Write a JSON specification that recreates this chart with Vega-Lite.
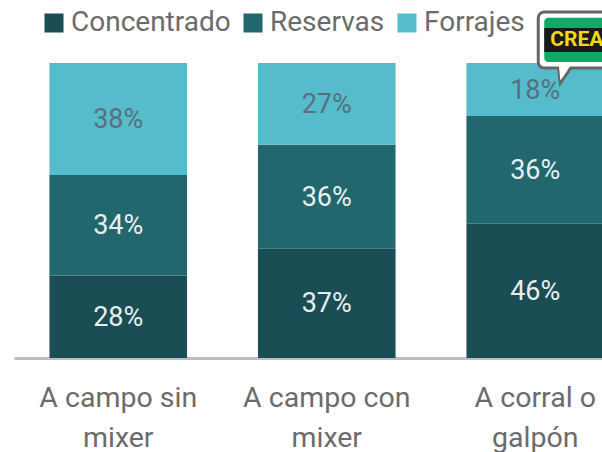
{"$schema":"https://vega.github.io/schema/vega-lite/v6.json","autosize":"none","width":588,"height":295,"padding":{"left":14,"top":63,"right":0,"bottom":94},"background":"white","view":{"stroke":null},"config":{"font":"Roboto"},"datasets":{"d":[{"s":"A campo sin mixer","t":"Concentrado","o":1,"v":28,"p":"28%"},{"s":"A campo sin mixer","t":"Reservas","o":2,"v":34,"p":"34%"},{"s":"A campo sin mixer","t":"Forrajes","o":3,"v":38,"p":"38%"},{"s":"A campo con mixer","t":"Concentrado","o":1,"v":37,"p":"37%"},{"s":"A campo con mixer","t":"Reservas","o":2,"v":35.3,"p":"36%"},{"s":"A campo con mixer","t":"Forrajes","o":3,"v":27.7,"p":"27%"},{"s":"A corral o galpón","t":"Concentrado","o":1,"v":45.5,"p":"46%"},{"s":"A corral o galpón","t":"Reservas","o":2,"v":36.5,"p":"36%"},{"s":"A corral o galpón","t":"Forrajes","o":3,"v":18,"p":"18%"}],"badge":[{"s":"A corral o galpón","top":117.3,"bottom":98.3,"t1":115.3,"b1":100.3,"t2":111.9,"b2":103.7,"mid":107.8,"tip":97.6,"name":"CREA"}]},"data":{"name":"d"},"transform":[{"stack":"v","groupby":["s"],"sort":[{"field":"o","order":"ascending"}],"as":["y0","y1"]},{"calculate":"(datum.y0+datum.y1)/2","as":"m"}],"encoding":{"x":{"field":"s","type":"nominal","sort":null,"scale":{"range":[0,625.5],"paddingInner":0.34,"paddingOuter":0.17},"axis":{"title":null,"labelAngle":0,"labelExpr":"datum.value == 'A campo sin mixer' ? ['A campo sin','mixer'] : datum.value == 'A campo con mixer' ? ['A campo con','mixer'] : ['A corral o','galpón']","labelFontSize":28.5,"labelColor":"#6b6b6b","labelLineHeight":40,"labelPadding":25,"labelBaseline":"top","ticks":false,"domainColor":"#bdbdbd","domainWidth":3,"labelLimit":300}}},"layer":[{"mark":{"type":"bar","strokeWidth":0},"encoding":{"y":{"field":"y0","type":"quantitative","scale":{"domain":[0,100]},"axis":null},"y2":{"field":"y1"},"color":{"field":"t","type":"nominal","scale":{"domain":["Concentrado","Reservas","Forrajes"],"range":["#1b4d54","#22666e","#56bccb"]},"legend":{"title":null,"orient":"none","legendX":26,"legendY":-54,"direction":"horizontal","symbolType":"square","symbolSize":361,"symbolStrokeWidth":0,"labelFontSize":28,"labelColor":"#6b6b6b","columnPadding":8,"labelOffset":3,"symbolOpacity":1,"labelLimit":300}}}},{"mark":{"type":"text","fontSize":27,"baseline":"middle","dy":1},"encoding":{"y":{"field":"m","type":"quantitative"},"text":{"field":"p"},"color":{"condition":{"test":"datum.t=='Forrajes'","value":"#56707f"},"value":"#e6eff0"}}},{"data":{"name":"badge"},"mark":{"type":"point","filled":true,"fill":"white","stroke":"#666666","strokeWidth":3,"shape":"M-0.62,-1 L1,-1 L-0.38,1 Z","size":676,"xOffset":30,"opacity":1},"encoding":{"y":{"field":"tip","type":"quantitative"},"color":{"value":"white"}}},{"data":{"name":"badge"},"mark":{"type":"bar","width":200,"xOffset":103,"fill":"white","stroke":"#666666","strokeWidth":3,"cornerRadius":6},"encoding":{"y":{"field":"top","type":"quantitative"},"y2":{"field":"bottom"},"color":{"value":"white"}}},{"data":{"name":"badge"},"mark":{"type":"point","filled":true,"fill":"white","strokeWidth":0,"shape":"M-0.55,-1 L0.85,-1 L-0.38,0.8 Z","size":676,"xOffset":30,"opacity":1},"encoding":{"y":{"field":"tip","type":"quantitative"},"color":{"value":"white"}}},{"data":{"name":"badge"},"mark":{"type":"bar","width":200,"xOffset":109,"fill":"#0fa968","cornerRadius":4},"encoding":{"y":{"field":"t1","type":"quantitative"},"y2":{"field":"b1"},"color":{"value":"#0fa968"}}},{"data":{"name":"badge"},"mark":{"type":"bar","width":200,"xOffset":109,"fill":"#1a1a1a"},"encoding":{"y":{"field":"t2","type":"quantitative"},"y2":{"field":"b2"},"color":{"value":"#1a1a1a"}}},{"data":{"name":"badge"},"mark":{"type":"text","fontSize":21,"fontWeight":"bold","align":"left","baseline":"middle","xOffset":15,"fill":"#f2d916"},"encoding":{"y":{"field":"mid","type":"quantitative"},"text":{"field":"name"},"color":{"value":"#f2d916"}}}]}
